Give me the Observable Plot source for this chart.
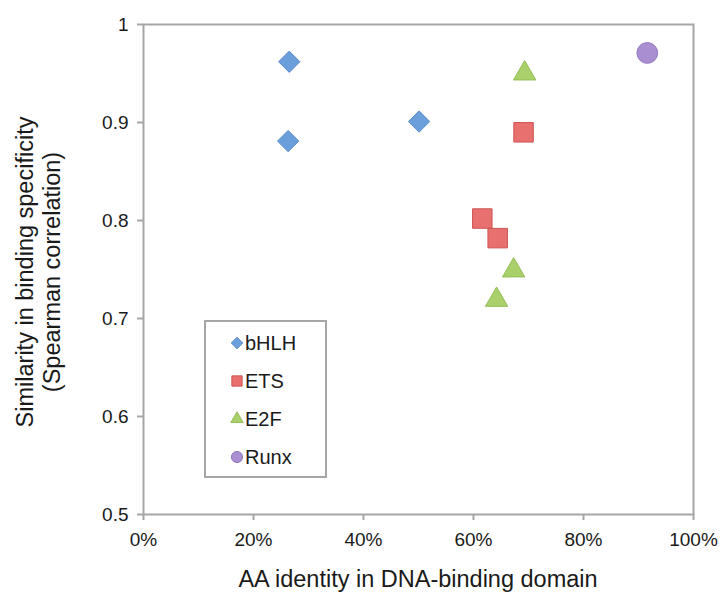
<!DOCTYPE html>
<html>
<head>
<meta charset="utf-8">
<script src="https://cdn.jsdelivr.net/npm/d3@7"></script>
<script src="https://cdn.jsdelivr.net/npm/@observablehq/plot@0.6"></script>
<style>
  html, body { margin: 0; padding: 0; background: white; }
  #chart { width: 724px; height: 598px; }
</style>
</head>
<body>
<div id="chart"></div>
<script>
// Data (x = AA identity fraction, y = Spearman correlation)
const bhlhX = [0.265, 0.263, 0.501];
const bhlhY = [0.962, 0.881, 0.901];
const etsX = [0.691, 0.616, 0.644];
const etsY = [0.890, 0.802, 0.782];
const e2fX = [0.693, 0.673, 0.642];
const e2fY = [0.950, 0.749, 0.719];
const runxX = [0.916];
const runxY = [0.971];

const seriesNames = ["bHLH", "ETS", "E2F", "Runx"];
const xTicks = [0, 0.2, 0.4, 0.6, 0.8, 1.0];
const yTicks = [0.5, 0.6, 0.7, 0.8, 0.9, 1.0];
const xTitle = "AA identity in DNA-binding domain";
const yTitle = ["Similarity in binding specificity", "(Spearman correlation)"];

const toRows = (xs, ys) => xs.map((x, i) => ({x, y: ys[i]}));

const styles = {
  bHLH: {symbol: "diamond2", r: 9.6, fill: "#6a9fdc", stroke: "#5a8ccc", lr: 5.2},
  ETS:  {symbol: "square",   r: 11.0, fill: "#e8706e", stroke: "#cc5553", lr: 5.8},
  E2F:  {symbol: "triangle", r: 8.3, fill: "#a9d06a", stroke: "#95bd57", lr: 4.6},
  Runx: {symbol: "circle",   r: 10.4, fill: "#a98ed2", stroke: "#9479c2", lr: 5.6}
};
const seriesData = {
  bHLH: toRows(bhlhX, bhlhY),
  ETS: toRows(etsX, etsY),
  E2F: toRows(e2fX, e2fY),
  Runx: toRows(runxX, runxY)
};

const axisColor = "#a6a6a6";
const textColor = "#1a1a1a";
const font = "'Liberation Sans', Arial, sans-serif";

const svg = Plot.plot({
  width: 724,
  height: 598,
  marginLeft: 143,
  marginRight: 31,
  marginTop: 24,
  marginBottom: 84,
  style: {fontFamily: font, fontSize: "19px", background: "white", color: textColor},
  x: {domain: [0, 1], label: null},
  y: {domain: [0.5, 1], label: null},
  marks: [
    Plot.frame({stroke: axisColor, strokeWidth: 2}),
    Plot.axisX({ticks: xTicks, tickSize: 6, tickPadding: 12, stroke: axisColor, strokeWidth: 2,
      tickFormat: d3.format(".0%"), label: null, fontSize: 19}),
    Plot.axisY({ticks: yTicks, tickSize: 6, tickPadding: 9, stroke: axisColor, strokeWidth: 2,
      tickFormat: d => d === 1 ? "1" : d.toFixed(1), label: null, fontSize: 19}),
    ...seriesNames.map(name => Plot.dot(seriesData[name], {
      x: "x", y: "y", symbol: () => styles[name].symbol, r: styles[name].r,
      fill: styles[name].fill, stroke: styles[name].stroke, strokeWidth: 1, fillOpacity: 1
    }))
  ]
});

const s = d3.select(svg);
// Axis titles
s.append("text")
  .attr("x", 418).attr("y", 587)
  .attr("text-anchor", "middle")
  .attr("font-family", font).attr("font-size", 23.5).attr("fill", textColor)
  .text(xTitle);
yTitle.forEach((t, i) => {
  s.append("text")
    .attr("transform", `translate(${33 + i * 27},272) rotate(-90)`)
    .attr("text-anchor", "middle")
    .attr("font-family", font).attr("font-size", 23.5).attr("fill", textColor)
    .text(t);
});

// Legend
const lg = s.append("g");
lg.append("rect").attr("x", 205).attr("y", 321).attr("width", 121).attr("height", 156)
  .attr("fill", "white").attr("stroke", axisColor).attr("stroke-width", 2);
const symMap = {diamond2: d3.symbolDiamond2, square: d3.symbolSquare, triangle: d3.symbolTriangle, circle: d3.symbolCircle};
seriesNames.forEach((name, i) => {
  const y = 343 + i * 38;
  const st = styles[name];
  lg.append("path")
    .attr("transform", `translate(237,${y})`)
    .attr("d", d3.symbol(symMap[st.symbol], Math.PI * st.lr * st.lr)())
    .attr("fill", st.fill).attr("stroke", st.stroke).attr("stroke-width", 1);
  lg.append("text")
    .attr("x", 245).attr("y", y).attr("dy", "0.35em")
    .attr("text-anchor", "start")
    .attr("font-family", font).attr("font-size", 20).attr("fill", textColor)
    .text(name);
});

document.getElementById("chart").appendChild(svg);
</script>
</body>
</html>
